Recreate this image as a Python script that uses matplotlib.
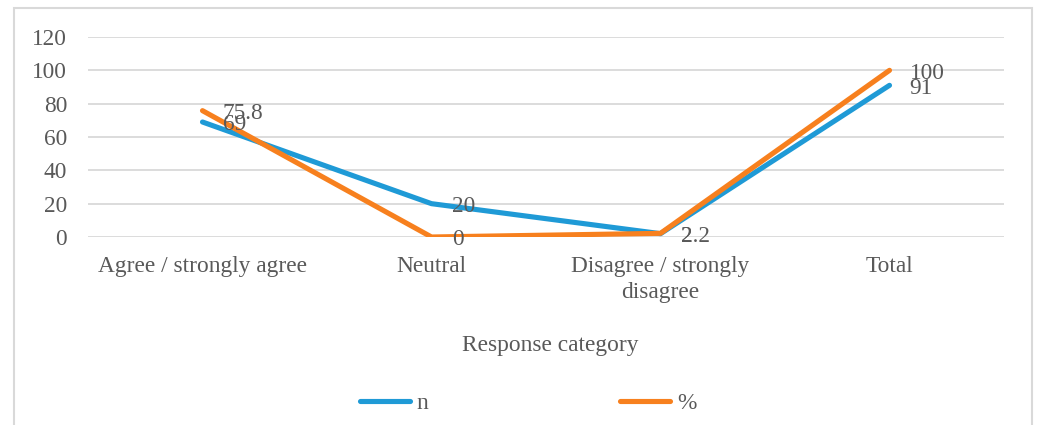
import matplotlib
matplotlib.use("Agg")
import matplotlib.pyplot as plt
from matplotlib.patches import Rectangle

categories = ["Agree / strongly agree", "Neutral", "Disagree / strongly\ndisagree", "Total"]
n_values = [69, 20, 2, 91]
pct_values = [75.8, 0, 2.2, 100]
n_labels = ["69", "20", "2", "91"]
pct_labels = ["75.8", "0", "2.2", "100"]
yticks = [0, 20, 40, 60, 80, 100, 120]

W, H = 1037, 425
plt.rcParams['font.family'] = ['Liberation Serif', 'DejaVu Serif']
FS = 16.8
TXT = "#595959"
BLUE = "#1F9AD6"
ORANGE = "#F7801E"
GRID = "#D9D9D9"

fig = plt.figure(figsize=(W/100, H/100), dpi=100)
# chart border
fig.patches.append(Rectangle((14/W, -0.02), (1032-14)/W, (H-8)/H + 0.02,
                             transform=fig.transFigure, fill=False,
                             edgecolor=GRID, linewidth=1.5))

ax = fig.add_axes([88/W, (H-237)/H, (1004-88)/W, 200/H])
x = list(range(len(categories)))
ax.plot(x, n_values, color=BLUE, lw=3.7, solid_capstyle='round', label="n", zorder=3)
ax.plot(x, pct_values, color=ORANGE, lw=3.7, solid_capstyle='round', label="%", zorder=4)

for xi, v, t in zip(x, n_values, n_labels):
    ax.annotate(t, (xi, v), xytext=(14.5, -2), textcoords='offset points',
                ha='left', va='center', fontsize=FS, color=TXT, zorder=5)
for xi, v, t in zip(x, pct_values, pct_labels):
    ax.annotate(t, (xi, v), xytext=(14.5, -2), textcoords='offset points',
                ha='left', va='center', fontsize=FS, color=TXT, zorder=5)

ax.set_xlim(-0.5, len(categories) - 0.5)
ax.set_ylim(0, 120)
ax.set_yticks(yticks)
ax.set_xticks(x)
ax.set_xticklabels(categories, fontsize=FS, color=TXT, linespacing=1.3)
ax.tick_params(axis='y', length=0, pad=15, labelsize=FS, labelcolor=TXT)
ax.tick_params(axis='x', length=0, pad=14, labelsize=FS, labelcolor=TXT)
ax.grid(axis='y', color=GRID, lw=1.3)
ax.set_axisbelow(True)
for s in ax.spines.values():
    s.set_visible(False)

fig.text(550/W, (H-345)/H, "Response category", ha='center', va='center',
         fontsize=FS, color=TXT)

leg = fig.legend(loc='center', bbox_to_anchor=(528/W, (H-403)/H), ncol=2,
                 frameon=False, fontsize=FS, handlelength=2.15,
                 handletextpad=0.3, columnspacing=8.2, labelcolor=TXT)

fig.savefig("out.png", dpi=100)
